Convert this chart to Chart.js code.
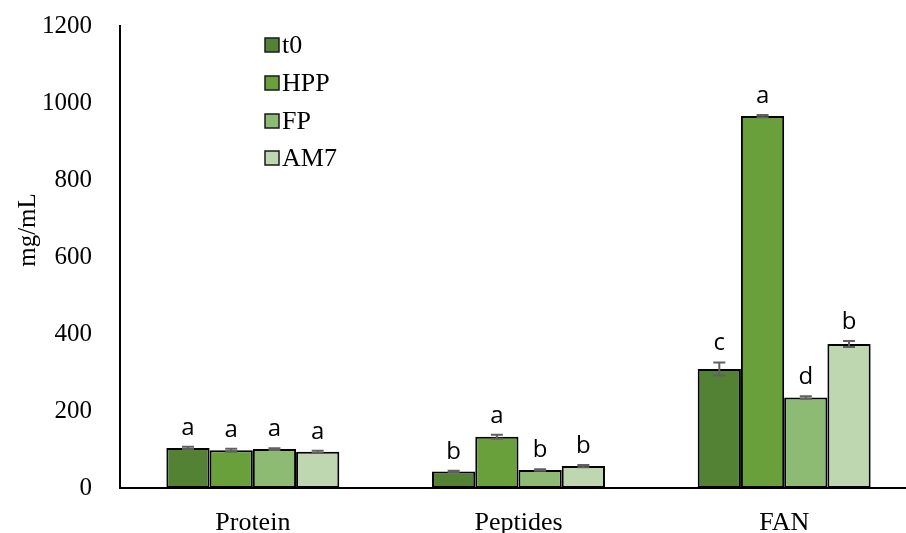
<!DOCTYPE html>
<html>
<head>
<meta charset="utf-8">
<script src="https://cdn.jsdelivr.net/npm/chart.js@4/dist/chart.umd.min.js"></script>
<style>
  html, body { margin: 0; padding: 0; background: #fff; }
  #clip { width: 906px; height: 533px; position: relative; overflow: hidden; }
  /* the source figure is cropped: plot runs a bit past the right edge */
  #wrap { width: 917px; height: 550px; position: absolute; left: 0; top: -17px; }
</style>
</head>
<body>
<div id="clip"><div id="wrap"><canvas id="chart"></canvas></div></div>
<script>
// data
const categories = ['Protein', 'Peptides', 'FAN'];
const seriesNames = ['t0', 'HPP', 'FP', 'AM7'];

const t0Values  = [104, 43, 309];
const hppValues = [98, 133, 966];
const fpValues  = [101, 47, 235];
const am7Values = [94, 57, 374];

const t0Err  = [3, 2, 17];
const hppErr = [4, 5, 3];
const fpErr  = [2, 2, 3];
const am7Err = [3, 3, 8];

const t0Letters  = ['a', 'b', 'c'];
const hppLetters = ['a', 'a', 'a'];
const fpLetters  = ['a', 'b', 'd'];
const am7Letters = ['a', 'b', 'b'];

const yTicks = [0, 200, 400, 600, 800, 1000, 1200];

const colors = ['#548235', '#69a03b', '#8dbb73', '#bfd7b0'];
const serif = '"Liberation Serif", "Times New Roman", serif';
const shiftY = 17;

const allValues = [t0Values, hppValues, fpValues, am7Values];
const allErrors = [t0Err, hppErr, fpErr, am7Err];
const allLetters = [t0Letters, hppLetters, fpLetters, am7Letters];

// error bars + significance letters
const annotations = {
    id: 'annotations',
    afterDatasetsDraw(chart) {
        const ctx = chart.ctx;
        const y = chart.scales.y;
        chart.data.datasets.forEach((ds, i) => {
            const meta = chart.getDatasetMeta(i);
            meta.data.forEach((bar, j) => {
                const v = ds.data[j];
                const e = allErrors[i][j];
                const top = y.getPixelForValue(v + e);
                const bot = y.getPixelForValue(v - e);
                ctx.save();
                ctx.strokeStyle = '#606060';
                ctx.lineWidth = 2;
                ctx.beginPath();
                ctx.moveTo(bar.x, top); ctx.lineTo(bar.x, bot);
                ctx.moveTo(bar.x - 6, top); ctx.lineTo(bar.x + 6, top);
                ctx.moveTo(bar.x - 6, bot); ctx.lineTo(bar.x + 6, bot);
                ctx.stroke();

                ctx.fillStyle = '#000';
                ctx.font = '24px "Open Sans", sans-serif';
                ctx.textAlign = 'center';
                ctx.textBaseline = 'alphabetic';
                ctx.fillText(allLetters[i][j], bar.x, top - 12);
                ctx.restore();
            });
        });
    }
};

// legend inside plot + rotated y title
const extras = {
    id: 'extras',
    afterDraw(chart) {
        const ctx = chart.ctx;
        const rows = [45, 83, 121, 158];
        ctx.save();
        chart.data.datasets.forEach((ds, i) => {
            const cy = rows[i] + shiftY;
            ctx.fillStyle = ds.backgroundColor;
            ctx.fillRect(265, cy - 7, 14, 14);
            ctx.strokeStyle = '#1a1a1a';
            ctx.lineWidth = 1.5;
            ctx.strokeRect(265, cy - 7, 14, 14);
            ctx.fillStyle = '#000';
            ctx.font = '26px ' + serif;
            ctx.textAlign = 'left';
            ctx.textBaseline = 'middle';
            ctx.fillText(ds.label, 282, cy + 1);
        });

        ctx.translate(28, 230 + shiftY);
        ctx.rotate(-Math.PI / 2);
        ctx.font = '25px ' + serif;
        ctx.textAlign = 'center';
        ctx.textBaseline = 'middle';
        ctx.fillText('mg/mL', 0, 0);
        ctx.restore();
    }
};

new Chart(document.getElementById('chart'), {
    type: 'bar',
    data: {
        labels: categories,
        datasets: seriesNames.map((name, i) => ({
            label: name,
            data: allValues[i],
            backgroundColor: colors[i],
            borderColor: '#000',
            borderWidth: 2,
            borderSkipped: false,
            categoryPercentage: 0.651,
            barPercentage: 1
        }))
    },
    options: {
        responsive: true,
        maintainAspectRatio: false,
        animation: false,
        layout: { padding: 0 },
        plugins: {
            legend: { display: false },
            tooltip: { enabled: false }
        },
        scales: {
            x: {
                grid: { display: false, drawTicks: false },
                border: { color: '#000', width: 2 },
                ticks: {
                    color: '#000',
                    padding: 20,
                    font: { family: serif, size: 26 }
                },
                afterFit(scale) { scale.height = 45; }
            },
            y: {
                min: 0,
                max: 1200,
                grid: { display: false, drawTicks: false },
                border: { color: '#000', width: 2 },
                afterBuildTicks(scale) {
                    scale.ticks = yTicks.map(v => ({ value: v }));
                },
                ticks: {
                    color: '#000',
                    padding: 28,
                    font: { family: serif, size: 25 },
                    callback: v => String(v)
                },
                afterFit(scale) { scale.width = 120; }
            }
        }
    },
    plugins: [annotations, extras]
});
</script>
</body>
</html>
